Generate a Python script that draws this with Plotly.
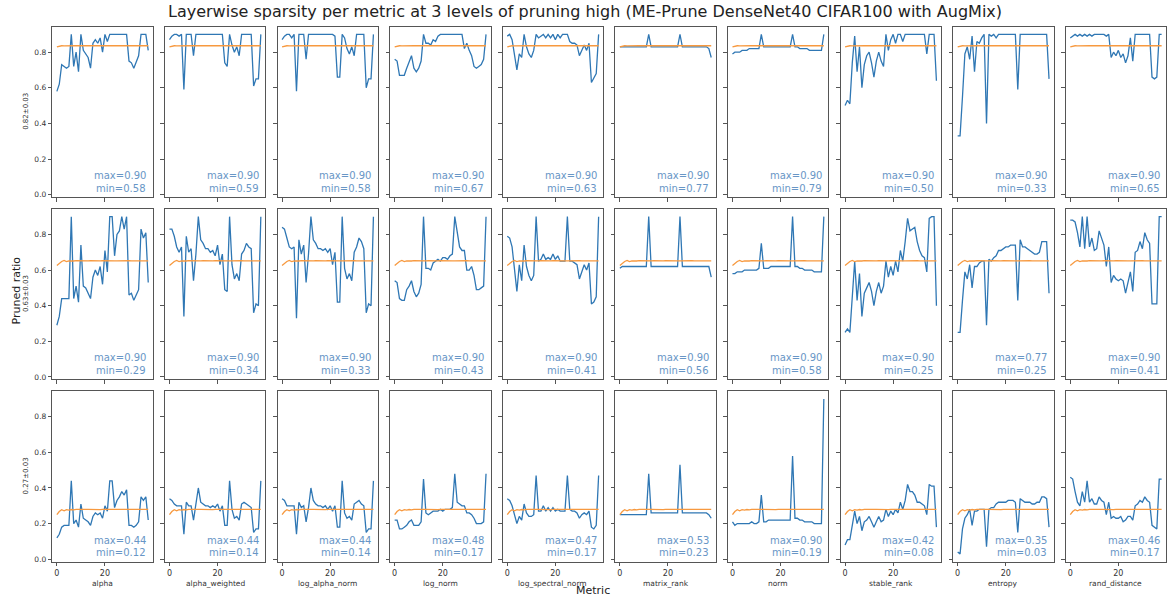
import plotly.graph_objects as go

# ---- data -------------------------------------------------------------
metrics = ["alpha", "alpha_weighted", "log_alpha_norm", "log_norm", "log_spectral_norm",
           "matrix_rank", "norm", "stable_rank", "entropy", "rand_distance"]
level_labels = ["0.82±0.03", "0.63±0.03", "0.27±0.03"]
layers = list(range(39))
x_ticks = [0, 20]
y_ticks = [0.0, 0.2, 0.4, 0.6, 0.8]

# level 1 (~0.82)
alpha_r1 = [0.58,0.62,0.73,0.72,0.71,0.72,0.90,0.72,0.80,0.69,0.90,0.81,0.79,0.77,0.71,0.85,0.87,0.85,0.88,0.80,0.90,0.86,0.90,0.90,0.90,0.90,0.90,0.90,0.90,0.90,0.75,0.74,0.71,0.74,0.78,0.90,0.90,0.90,0.81]
alpha_weighted_r1 = [0.87,0.89,0.90,0.90,0.89,0.90,0.59,0.90,0.90,0.90,0.78,0.90,0.90,0.90,0.90,0.90,0.90,0.90,0.90,0.90,0.90,0.90,0.90,0.74,0.72,0.90,0.84,0.80,0.83,0.78,0.90,0.90,0.90,0.90,0.90,0.61,0.65,0.65,0.90]
log_alpha_norm_r1 = [0.87,0.89,0.90,0.90,0.88,0.90,0.58,0.90,0.90,0.90,0.76,0.90,0.90,0.90,0.90,0.90,0.90,0.90,0.90,0.90,0.90,0.90,0.89,0.66,0.66,0.90,0.88,0.82,0.79,0.83,0.78,0.90,0.90,0.90,0.90,0.60,0.65,0.65,0.90]
log_norm_r1 = [0.76,0.75,0.67,0.67,0.67,0.71,0.74,0.78,0.71,0.69,0.71,0.75,0.90,0.85,0.85,0.84,0.87,0.86,0.89,0.90,0.90,0.90,0.90,0.90,0.90,0.90,0.90,0.90,0.90,0.82,0.85,0.81,0.78,0.72,0.71,0.72,0.73,0.76,0.90]
log_spectral_norm_r1 = [0.89,0.90,0.87,0.79,0.70,0.79,0.77,0.90,0.83,0.79,0.77,0.81,0.90,0.88,0.89,0.90,0.88,0.90,0.88,0.90,0.87,0.90,0.88,0.90,0.90,0.90,0.86,0.85,0.85,0.84,0.78,0.81,0.84,0.81,0.85,0.63,0.66,0.68,0.90]
matrix_rank_r1 = [0.83,0.83,0.83,0.83,0.83,0.83,0.83,0.83,0.83,0.83,0.83,0.83,0.90,0.83,0.83,0.83,0.83,0.83,0.83,0.83,0.83,0.83,0.83,0.83,0.83,0.90,0.83,0.83,0.83,0.83,0.83,0.83,0.83,0.83,0.83,0.83,0.83,0.82,0.77]
norm_r1 = [0.79,0.80,0.80,0.80,0.81,0.81,0.81,0.82,0.82,0.82,0.82,0.82,0.90,0.83,0.83,0.83,0.83,0.83,0.83,0.83,0.83,0.83,0.83,0.83,0.83,0.90,0.83,0.83,0.82,0.82,0.82,0.82,0.81,0.81,0.81,0.81,0.81,0.81,0.90]
stable_rank_r1 = [0.50,0.53,0.51,0.74,0.89,0.69,0.83,0.60,0.73,0.78,0.80,0.74,0.66,0.75,0.80,0.75,0.72,0.90,0.81,0.87,0.90,0.85,0.90,0.90,0.86,0.90,0.90,0.90,0.90,0.90,0.90,0.90,0.90,0.90,0.79,0.90,0.90,0.90,0.64]
entropy_r1 = [0.33,0.33,0.55,0.79,0.83,0.76,0.89,0.69,0.86,0.85,0.88,0.90,0.40,0.90,0.89,0.90,0.88,0.90,0.90,0.90,0.90,0.90,0.90,0.90,0.90,0.59,0.90,0.90,0.90,0.90,0.90,0.90,0.90,0.90,0.90,0.90,0.90,0.90,0.65]
rand_distance_r1 = [0.88,0.89,0.90,0.89,0.90,0.89,0.90,0.89,0.90,0.89,0.90,0.90,0.90,0.90,0.90,0.89,0.90,0.77,0.80,0.78,0.81,0.77,0.79,0.74,0.78,0.88,0.75,0.90,0.90,0.90,0.90,0.90,0.90,0.90,0.66,0.65,0.66,0.90,0.90]
baseline_r1 = [0.830,0.834,0.836,0.835,0.836,0.836,0.836,0.835,0.836,0.836,0.836,0.836,0.836,0.836,0.837,0.836,0.836,0.836,0.836,0.836,0.836,0.837,0.836,0.836,0.836,0.836,0.836,0.836,0.836,0.836,0.836,0.836,0.836,0.836,0.836,0.836,0.836,0.836,0.836]

# level 2 (~0.63)
alpha_r2 = [0.29,0.34,0.44,0.44,0.44,0.44,0.90,0.44,0.51,0.42,0.74,0.51,0.50,0.47,0.44,0.56,0.60,0.57,0.62,0.52,0.71,0.59,0.90,0.90,0.68,0.80,0.82,0.90,0.83,0.90,0.46,0.47,0.43,0.46,0.49,0.83,0.78,0.81,0.53]
alpha_weighted_r2 = [0.83,0.83,0.79,0.73,0.70,0.73,0.34,0.79,0.70,0.72,0.54,0.69,0.90,0.77,0.75,0.72,0.72,0.70,0.71,0.68,0.74,0.63,0.69,0.49,0.48,0.90,0.63,0.55,0.58,0.54,0.69,0.71,0.75,0.73,0.72,0.36,0.41,0.40,0.90]
log_alpha_norm_r2 = [0.84,0.83,0.78,0.73,0.72,0.73,0.33,0.77,0.69,0.74,0.53,0.69,0.90,0.77,0.75,0.72,0.72,0.71,0.72,0.70,0.72,0.63,0.70,0.42,0.42,0.90,0.61,0.55,0.58,0.54,0.70,0.73,0.78,0.76,0.72,0.36,0.41,0.40,0.90]
log_norm_r2 = [0.54,0.53,0.44,0.43,0.43,0.49,0.51,0.54,0.48,0.45,0.47,0.52,0.90,0.61,0.61,0.60,0.64,0.65,0.66,0.65,0.67,0.67,0.66,0.68,0.69,0.90,0.81,0.73,0.71,0.71,0.60,0.60,0.62,0.57,0.49,0.49,0.50,0.51,0.90]
log_spectral_norm_r2 = [0.79,0.78,0.73,0.62,0.48,0.63,0.54,0.74,0.62,0.57,0.54,0.57,0.90,0.65,0.66,0.69,0.66,0.67,0.66,0.69,0.66,0.68,0.65,0.65,0.65,0.90,0.65,0.65,0.64,0.63,0.55,0.59,0.63,0.60,0.64,0.41,0.42,0.45,0.90]
matrix_rank_r2 = [0.61,0.62,0.62,0.62,0.62,0.62,0.62,0.62,0.62,0.62,0.62,0.62,0.90,0.62,0.62,0.62,0.62,0.62,0.62,0.62,0.62,0.62,0.62,0.62,0.62,0.90,0.62,0.62,0.62,0.62,0.62,0.62,0.62,0.62,0.62,0.62,0.62,0.62,0.56]
norm_r2 = [0.58,0.58,0.59,0.59,0.59,0.60,0.60,0.60,0.60,0.60,0.60,0.61,0.75,0.61,0.61,0.61,0.62,0.62,0.62,0.62,0.62,0.62,0.62,0.62,0.62,0.90,0.62,0.62,0.61,0.61,0.60,0.60,0.60,0.60,0.59,0.59,0.59,0.59,0.90]
stable_rank_r2 = [0.25,0.27,0.25,0.43,0.65,0.43,0.58,0.34,0.47,0.50,0.53,0.48,0.40,0.48,0.53,0.47,0.51,0.65,0.56,0.62,0.57,0.65,0.59,0.71,0.65,0.76,0.89,0.82,0.83,0.84,0.76,0.71,0.68,0.67,0.59,0.89,0.90,0.90,0.40]
entropy_r2 = [0.25,0.25,0.43,0.59,0.55,0.63,0.50,0.62,0.62,0.64,0.65,0.65,0.29,0.66,0.65,0.67,0.68,0.71,0.71,0.72,0.73,0.73,0.74,0.74,0.74,0.43,0.77,0.73,0.73,0.72,0.71,0.70,0.69,0.69,0.70,0.76,0.76,0.76,0.47]
rand_distance_r2 = [0.88,0.88,0.87,0.81,0.73,0.90,0.72,0.90,0.73,0.78,0.71,0.72,0.82,0.78,0.74,0.62,0.73,0.53,0.57,0.55,0.54,0.55,0.54,0.47,0.54,0.59,0.48,0.70,0.71,0.76,0.72,0.81,0.77,0.75,0.41,0.41,0.41,0.90,0.90]
baseline_r2 = [0.626,0.638,0.648,0.654,0.648,0.652,0.650,0.651,0.653,0.652,0.652,0.653,0.652,0.652,0.653,0.652,0.652,0.653,0.652,0.653,0.652,0.652,0.653,0.652,0.652,0.652,0.653,0.652,0.652,0.652,0.653,0.652,0.652,0.652,0.652,0.652,0.652,0.652,0.652]

# level 3 (~0.27)
alpha_r3 = [0.12,0.14,0.18,0.19,0.19,0.19,0.44,0.20,0.22,0.18,0.31,0.23,0.22,0.21,0.19,0.24,0.26,0.25,0.26,0.23,0.30,0.27,0.44,0.44,0.29,0.33,0.35,0.38,0.36,0.39,0.19,0.19,0.18,0.19,0.21,0.35,0.33,0.35,0.22]
alpha_weighted_r3 = [0.34,0.33,0.31,0.30,0.30,0.30,0.14,0.32,0.30,0.30,0.22,0.30,0.40,0.32,0.31,0.30,0.30,0.29,0.30,0.29,0.31,0.27,0.30,0.19,0.19,0.44,0.28,0.23,0.24,0.22,0.31,0.32,0.31,0.30,0.29,0.15,0.17,0.17,0.44]
log_alpha_norm_r3 = [0.34,0.33,0.30,0.30,0.30,0.30,0.14,0.32,0.29,0.30,0.21,0.29,0.40,0.33,0.31,0.30,0.30,0.29,0.30,0.28,0.30,0.27,0.30,0.18,0.18,0.44,0.26,0.23,0.24,0.22,0.31,0.32,0.33,0.31,0.30,0.15,0.17,0.17,0.44]
log_norm_r3 = [0.22,0.22,0.17,0.17,0.18,0.19,0.21,0.22,0.19,0.19,0.19,0.21,0.45,0.26,0.25,0.26,0.27,0.27,0.27,0.28,0.27,0.28,0.28,0.28,0.29,0.48,0.32,0.31,0.30,0.30,0.26,0.26,0.25,0.23,0.20,0.20,0.20,0.21,0.48]
log_spectral_norm_r3 = [0.34,0.33,0.30,0.25,0.20,0.24,0.22,0.31,0.26,0.24,0.24,0.25,0.47,0.27,0.27,0.30,0.27,0.29,0.27,0.29,0.27,0.28,0.27,0.27,0.27,0.47,0.28,0.27,0.27,0.26,0.23,0.25,0.26,0.25,0.27,0.18,0.17,0.19,0.47]
matrix_rank_r3 = [0.25,0.25,0.25,0.25,0.25,0.25,0.25,0.25,0.25,0.25,0.25,0.25,0.48,0.26,0.26,0.26,0.26,0.26,0.26,0.26,0.26,0.26,0.26,0.26,0.26,0.53,0.26,0.26,0.26,0.26,0.26,0.26,0.26,0.26,0.26,0.26,0.26,0.25,0.23]
norm_r3 = [0.21,0.19,0.20,0.20,0.20,0.20,0.20,0.20,0.21,0.20,0.20,0.21,0.36,0.21,0.21,0.22,0.22,0.22,0.22,0.22,0.22,0.22,0.22,0.22,0.22,0.58,0.23,0.23,0.22,0.22,0.21,0.21,0.21,0.21,0.20,0.20,0.20,0.20,0.90]
stable_rank_r3 = [0.08,0.11,0.11,0.19,0.27,0.20,0.24,0.16,0.21,0.22,0.24,0.21,0.18,0.21,0.24,0.21,0.22,0.28,0.24,0.27,0.25,0.28,0.26,0.32,0.28,0.33,0.42,0.38,0.38,0.36,0.32,0.32,0.31,0.30,0.25,0.42,0.41,0.41,0.18]
entropy_r3 = [0.04,0.03,0.17,0.23,0.25,0.28,0.19,0.27,0.27,0.28,0.28,0.28,0.07,0.28,0.29,0.29,0.31,0.32,0.32,0.32,0.32,0.33,0.33,0.33,0.32,0.15,0.34,0.33,0.32,0.32,0.32,0.31,0.31,0.32,0.32,0.35,0.35,0.34,0.18]
rand_distance_r3 = [0.46,0.45,0.38,0.32,0.30,0.38,0.32,0.44,0.32,0.34,0.31,0.31,0.35,0.33,0.32,0.25,0.32,0.23,0.24,0.23,0.23,0.24,0.21,0.22,0.24,0.24,0.22,0.30,0.31,0.33,0.32,0.35,0.33,0.32,0.19,0.18,0.17,0.45,0.45]
baseline_r3 = [0.250,0.268,0.278,0.272,0.278,0.276,0.279,0.277,0.280,0.279,0.280,0.279,0.280,0.280,0.279,0.280,0.280,0.280,0.279,0.280,0.280,0.280,0.280,0.279,0.280,0.280,0.280,0.280,0.280,0.280,0.279,0.280,0.280,0.280,0.280,0.280,0.280,0.280,0.280]

grid = [
    [alpha_r1, alpha_weighted_r1, log_alpha_norm_r1, log_norm_r1, log_spectral_norm_r1,
     matrix_rank_r1, norm_r1, stable_rank_r1, entropy_r1, rand_distance_r1],
    [alpha_r2, alpha_weighted_r2, log_alpha_norm_r2, log_norm_r2, log_spectral_norm_r2,
     matrix_rank_r2, norm_r2, stable_rank_r2, entropy_r2, rand_distance_r2],
    [alpha_r3, alpha_weighted_r3, log_alpha_norm_r3, log_norm_r3, log_spectral_norm_r3,
     matrix_rank_r3, norm_r3, stable_rank_r3, entropy_r3, rand_distance_r3],
]
baselines = [baseline_r1, baseline_r2, baseline_r3]

# ---- layout geometry (pixels) -----------------------------------------
W, H = 1169, 599
COL_LEFT, COL_STEP, COL_W = 52.3, 112.6, 100.5
ROW_TOP, ROW_STEP, ROW_H = 26.7, 182.9, 171.0

FONT = "DejaVu Sans"
BLUE = "#2f77b4"
ORANGE = "#f7993f"
NOTE = "#6896c6"
FRAME = "#555555"
TEXT = "#333333"

# shared y limits with 5% padding, x limits with 5% padding
all_vals = [v for row in grid for s in row for v in s] + [v for b in baselines for v in b]
lo, hi = min(all_vals), max(all_vals)
ypad = 0.05 * (hi - lo)
y_range = [lo - ypad, hi + ypad]
xpad = 0.05 * (layers[-1] - layers[0])
x_range = [layers[0] - xpad, layers[-1] + xpad]

fig = go.Figure()
layout = dict(
    width=W, height=H, autosize=False,
    margin=dict(l=0, r=0, t=0, b=0),
    paper_bgcolor="white", plot_bgcolor="white",
    showlegend=False,
    font=dict(family=FONT, color=TEXT),
)
annotations = []

for r in range(3):
    for c in range(10):
        idx = r * 10 + c + 1
        xs = "x" if idx == 1 else f"x{idx}"
        ys = "y" if idx == 1 else f"y{idx}"
        left = COL_LEFT + c * COL_STEP
        top = ROW_TOP + r * ROW_STEP
        vals = grid[r][c]

        fig.add_trace(go.Scatter(x=layers, y=vals, mode="lines", xaxis=xs, yaxis=ys,
                                 line=dict(color=BLUE, width=1.3), hoverinfo="skip"))
        fig.add_trace(go.Scatter(x=layers, y=baselines[r], mode="lines", xaxis=xs, yaxis=ys,
                                 line=dict(color=ORANGE, width=1.3), hoverinfo="skip"))

        layout["xaxis" if idx == 1 else f"xaxis{idx}"] = dict(
            domain=[left / W, (left + COL_W) / W], anchor=ys, range=x_range,
            tickmode="array", tickvals=x_ticks, ticktext=[str(t) for t in x_ticks],
            showticklabels=(r == 2), ticks="outside", ticklen=3.5, tickwidth=1,
            tickcolor=FRAME, tickfont=dict(size=8, color=TEXT, family=FONT),
            showline=True, mirror=True, linecolor=FRAME, linewidth=1,
            showgrid=False, zeroline=False, fixedrange=True,
        )
        layout["yaxis" if idx == 1 else f"yaxis{idx}"] = dict(
            domain=[1 - (top + ROW_H) / H, 1 - top / H], anchor=xs, range=y_range,
            tickmode="array", tickvals=y_ticks, ticktext=[f"{t:.1f}" for t in y_ticks],
            showticklabels=(c == 0), ticks="outside", ticklen=3.5, tickwidth=1,
            tickcolor=FRAME, tickfont=dict(size=7.5, color=TEXT, family=FONT),
            showline=True, mirror=True, linecolor=FRAME, linewidth=1,
            showgrid=False, zeroline=False, fixedrange=True,
        )

        # per-panel extremes, bottom right
        for txt, off in ((f"max={max(vals):.2f}", 21.5), (f"min={min(vals):.2f}", 8.8)):
            annotations.append(dict(
                text=txt, xref=f"{xs} domain", yref=f"{ys} domain",
                x=1 - 4.7 / COL_W, y=off / ROW_H, xanchor="right", yanchor="middle",
                showarrow=False, font=dict(size=10, color=NOTE, family=FONT),
            ))

        # metric names under the bottom row
        if r == 2:
            annotations.append(dict(
                text=metrics[c], xref="paper", yref="paper",
                x=(left + COL_W / 2) / W, y=1 - 585 / H, xanchor="center", yanchor="middle",
                showarrow=False, font=dict(size=7.5, color=TEXT, family=FONT),
            ))

    # level label at the left of each row
    annotations.append(dict(
        text=level_labels[r], xref="paper", yref="paper",
        x=26 / W, y=1 - (ROW_TOP + r * ROW_STEP + ROW_H / 2) / H,
        xanchor="center", yanchor="middle", textangle=-90,
        showarrow=False, font=dict(size=7, color=TEXT, family=FONT),
    ))

annotations.append(dict(
    text="Layerwise sparsity per metric at 3 levels of pruning high (ME-Prune DenseNet40 CIFAR100 with AugMix)",
    xref="paper", yref="paper", x=0.5, y=1 - 12 / H, xanchor="center", yanchor="middle",
    showarrow=False, font=dict(size=16, color="#222222", family=FONT),
))
annotations.append(dict(
    text="Metric", xref="paper", yref="paper", x=593 / W, y=1 - 592 / H,
    xanchor="center", yanchor="middle", showarrow=False,
    font=dict(size=11, color="#222222", family=FONT),
))
annotations.append(dict(
    text="Pruned ratio", xref="paper", yref="paper", x=16.5 / W, y=1 - 292 / H,
    xanchor="center", yanchor="middle", textangle=-90, showarrow=False,
    font=dict(size=11, color="#222222", family=FONT),
))

layout["annotations"] = annotations
fig.update_layout(**layout)
fig.write_html("out.html")
